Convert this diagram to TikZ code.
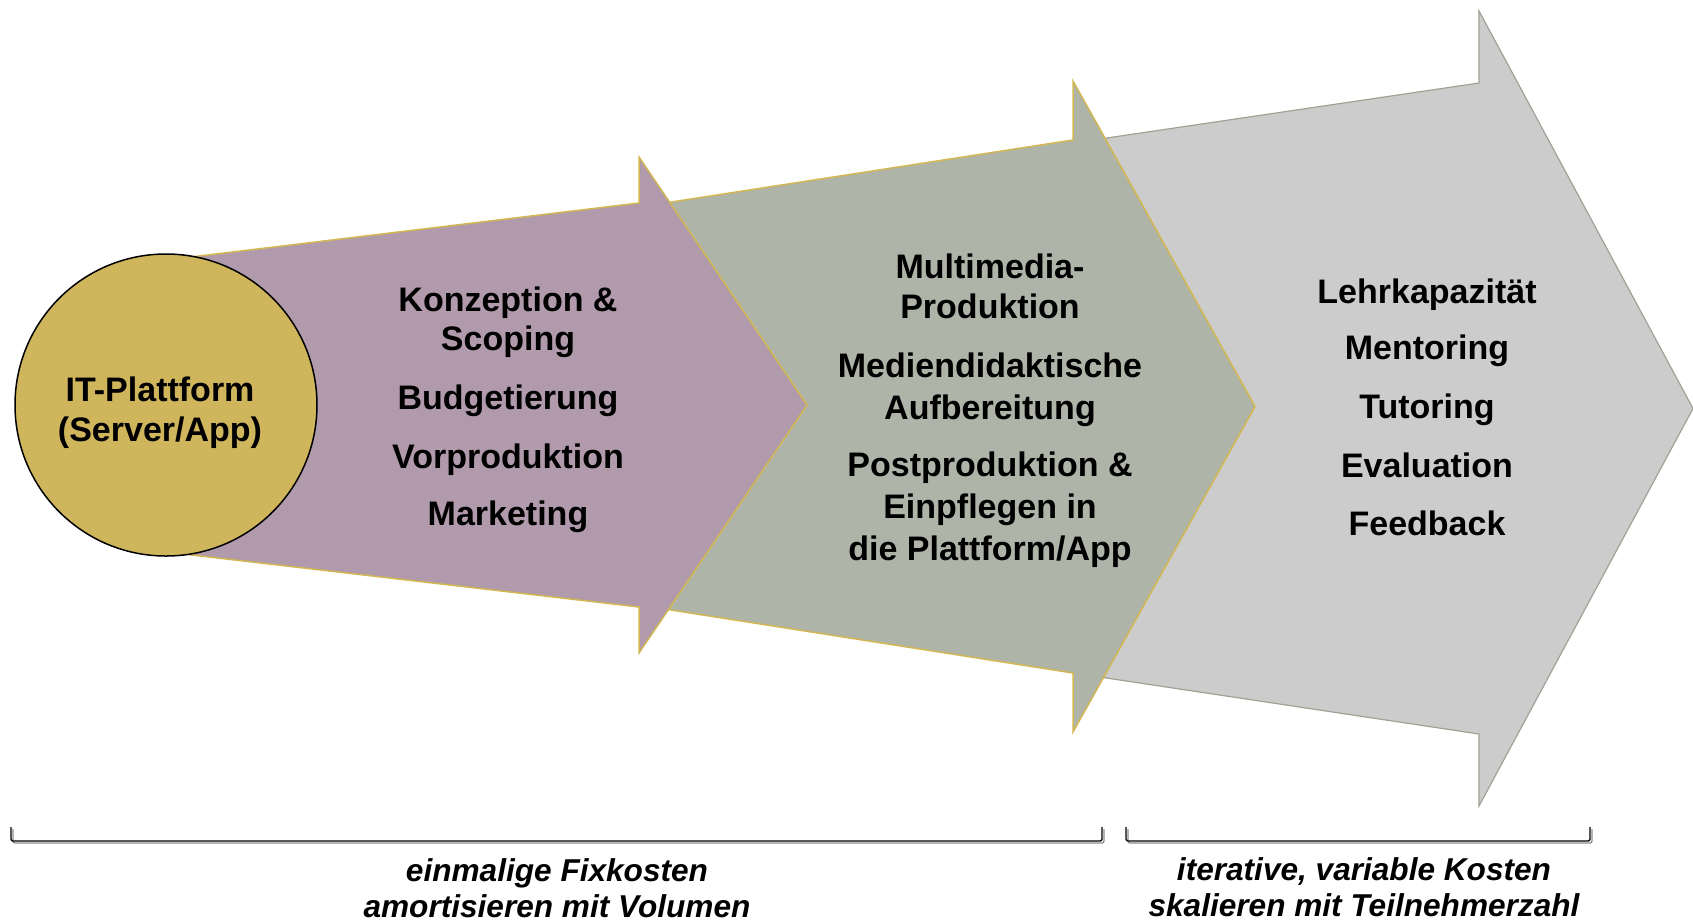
\documentclass[tikz,border=0pt]{standalone}
\usepackage{fontspec}
\setmainfont{Liberation Sans}
\definecolor{goldfill}{HTML}{CFB65C}
\definecolor{goldline}{HTML}{D2B752}
\definecolor{mauve}{HTML}{B09AAB}
\definecolor{sage}{HTML}{AFB4A9}
\definecolor{lgray}{HTML}{CCCCCC}
\definecolor{grayline}{HTML}{9EA394}
\definecolor{shadowgray}{HTML}{8C8C8C}
\begin{document}
\begin{tikzpicture}[x=1pt,y=-1pt,
  lbl/.style={font=\fontsize{34}{40}\selectfont\bfseries, inner sep=0pt, anchor=base},
  note/.style={font=\fontsize{31.6}{37}\selectfont\bfseries\itshape, inner sep=0pt, anchor=base},
  goldarrow/.style={draw=goldline, line width=1.5pt, line join=miter},
  bracketline/.style={draw=black, line width=1.3pt, rounded corners=2pt},
  bracketshadow/.style={draw=shadowgray, line width=1.3pt, rounded corners=2pt}
]
\useasboundingbox (0,0) rectangle (1693,922);
% gray arrow
\fill[lgray, draw=grayline, line width=1.2pt] (1073,143) -- (1479,83) -- (1479,11) -- (1693,408.5) -- (1479,806) -- (1479,734) -- (1073,673) -- cycle;
% green arrow
\fill[sage, goldarrow] (639,207) -- (1073,140) -- (1073,81) -- (1255,406.5) -- (1073,732) -- (1073,673) -- (639,605) -- cycle;
% purple arrow
\fill[mauve, goldarrow] (166,260) -- (639,203) -- (639,157) -- (807,405) -- (639,653) -- (639,607) -- (166,552) -- cycle;
% circle
\node[circle, draw=black, line width=1.5pt, fill=goldfill, minimum size=302pt, inner sep=0pt] (plat) at (166,405) {};
\node[lbl] (c1) at (160,401) {IT-Plattform};
\node[lbl] (c2) at (160,441) {(Server/App)};
% purple texts
\node[lbl] (p1) at (508,311) {Konzeption \&};
\node[lbl] (p2) at (508,350) {Scoping};
\node[lbl] (p3) at (508,409) {Budgetierung};
\node[lbl] (p4) at (508,468) {Vorproduktion};
\node[lbl] (p5) at (508,525) {Marketing};
% green texts
\node[lbl] (g1) at (990,278) {Multimedia-};
\node[lbl] (g2) at (990,318) {Produktion};
\node[lbl] (g3) at (990,377) {Mediendidaktische};
\node[lbl] (g4) at (990,419) {Aufbereitung};
\node[lbl] (g5) at (990,476) {Postproduktion \&};
\node[lbl] (g6) at (990,518) {Einpflegen in};
\node[lbl] (g7) at (990,560) {die Plattform/App};
% gray texts
\node[lbl] (r1) at (1427,303) {Lehrkapazität};
\node[lbl] (r2) at (1427,359) {Mentoring};
\node[lbl] (r3) at (1427,418) {Tutoring};
\node[lbl] (r4) at (1427,477) {Evaluation};
\node[lbl] (r5) at (1427,535) {Feedback};
% brackets
\draw[bracketshadow] (13,829) -- (13,843) -- (1104,843) -- (1104,829);
\draw[bracketline] (11,827) -- (11,841) -- (1102,841) -- (1102,827);
\draw[bracketshadow] (1128,829) -- (1128,843) -- (1592,843) -- (1592,829);
\draw[bracketline] (1126,827) -- (1126,841) -- (1590,841) -- (1590,827);
% notes
\node[note] (n1) at (557,881) {einmalige Fixkosten};
\node[note] (n2) at (557,917) {amortisieren mit Volumen};
\node[note] (n3) at (1364,880) {iterative, variable Kosten};
\node[note] (n4) at (1364,916) {skalieren mit Teilnehmerzahl};
\end{tikzpicture}
\end{document}
